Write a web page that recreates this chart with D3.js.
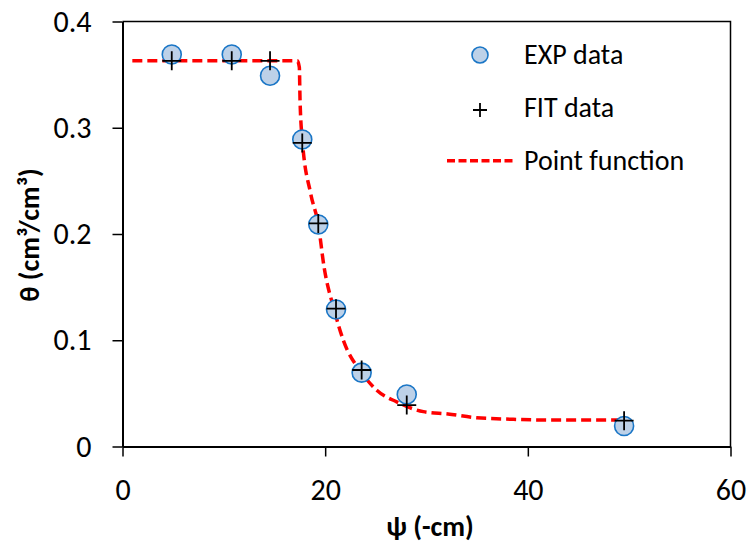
<!DOCTYPE html>
<html>
<head>
<meta charset="utf-8">
<script src="https://cdn.jsdelivr.net/npm/d3@7"></script>
<style>
  body { margin: 0; background: #fff; }
  svg text { font-family: Carlito, Calibri, Lato, sans-serif; fill: #000; }
</style>
</head>
<body>
<div id="chart"></div>
<script>
// measured data (psi in -cm, theta in cm3/cm3)
var expPsi = [4.86, 10.78, 14.56, 17.74, 19.32, 21.07, 23.6, 28.05, 49.5];
var expTheta = [0.369, 0.369, 0.349, 0.289, 0.209, 0.129, 0.0695, 0.049, 0.0193];
var fitTheta = [0.363, 0.363, 0.363, 0.2857, 0.21, 0.1297, 0.072, 0.039, 0.0243];
// point function curve
var curvePsi = [0.97, 17.25, 17.45, 17.52, 17.74, 18.57, 19.32, 19.89, 20.88, 21.79, 23.6, 25.09, 27.06, 29.69, 32.12, 34.95, 38.57, 41.86, 49.59];
var curveTheta = [0.363, 0.363, 0.357, 0.326, 0.289, 0.238, 0.209, 0.169, 0.129, 0.1, 0.0695, 0.053, 0.042, 0.0328, 0.0306, 0.0271, 0.0256, 0.0249, 0.0249];
var xTicks = [0, 20, 40, 60];
var yTicks = [0, 0.1, 0.2, 0.3, 0.4];
var legendItems = ["EXP data", "FIT data", "Point function"];

var width = 751, height = 546;
var svg = d3.select("#chart").append("svg")
  .attr("width", width)
  .attr("height", height);

var x = d3.scaleLinear().domain([0, 60]).range([122.5, 730.5]);
var y = d3.scaleLinear().domain([0, 0.4]).range([446.5, 21.5]);

// frame (top and right)
svg.append("path")
  .attr("d", "M" + x(0) + "," + y(0.4) + "H" + x(60) + "V" + y(0))
  .attr("fill", "none")
  .attr("stroke", "#000")
  .attr("stroke-width", 1.5);

// axes
var xAxis = svg.append("g")
  .attr("transform", "translate(0," + y(0) + ")")
  .call(d3.axisBottom(x).tickValues(xTicks).tickSize(10).tickSizeOuter(0).tickFormat(d3.format("d")));
xAxis.selectAll("text").attr("y", 53).attr("dy", 0).style("font-size", "30px");

var yAxis = svg.append("g")
  .attr("transform", "translate(" + x(0) + ",0)")
  .call(d3.axisLeft(y).tickValues(yTicks).tickSize(10).tickSizeOuter(0).tickPadding(21).tickFormat(function (d) {
    return d === 0 ? "0" : d3.format(".1f")(d);
  }));
yAxis.selectAll("text").style("font-size", "30px");

svg.selectAll(".domain").attr("stroke-width", 2);
svg.selectAll(".tick line").attr("stroke-width", 1.5);

// axis titles
svg.append("text")
  .attr("x", 430)
  .attr("y", 536)
  .attr("text-anchor", "middle")
  .style("font-size", "28px")
  .style("font-weight", "bold")
  .text("ψ (-cm)");

svg.append("text")
  .attr("transform", "translate(39,235) rotate(-90)")
  .attr("text-anchor", "middle")
  .style("font-size", "28px")
  .style("font-weight", "bold")
  .text("θ (cm³/cm³)");

// point function curve
var curveData = curvePsi.map(function (d, i) { return [d, curveTheta[i]]; });
var line = d3.line()
  .x(function (d) { return x(d[0]); })
  .y(function (d) { return y(d[1]); })
  .curve(d3.curveMonotoneX);

svg.append("path")
  .datum(curveData)
  .attr("d", line)
  .attr("fill", "none")
  .attr("stroke", "#ff0000")
  .attr("stroke-width", 3.5)
  .attr("stroke-dasharray", "10,5");

// experimental points
svg.append("g")
  .selectAll("circle")
  .data(expPsi)
  .enter()
  .append("circle")
  .attr("cx", function (d) { return x(d); })
  .attr("cy", function (d, i) { return y(expTheta[i]); })
  .attr("r", 9.5)
  .attr("fill", "#bdd1e8")
  .attr("stroke", "#1a76c6")
  .attr("stroke-width", 1.6);

// fitted points as plus markers
svg.append("g")
  .selectAll("path")
  .data(expPsi)
  .enter()
  .append("path")
  .attr("d", function (d, i) {
    var cx = x(d), cy = y(fitTheta[i]), s = 9.5;
    return "M" + (cx - s) + "," + cy + "H" + (cx + s) + "M" + cx + "," + (cy - s) + "V" + (cy + s);
  })
  .attr("stroke", "#000")
  .attr("stroke-width", 1.8)
  .attr("fill", "none");

// legend
var legend = svg.append("g").attr("class", "legend");
legend.append("circle")
  .attr("cx", 480).attr("cy", 55).attr("r", 8)
  .attr("fill", "#bdd1e8").attr("stroke", "#1a76c6").attr("stroke-width", 1.6);
legend.append("path")
  .attr("d", "M473,110H487M480,103V117")
  .attr("stroke", "#000").attr("stroke-width", 1.8);
legend.append("path")
  .attr("d", "M447,160.7H515")
  .attr("stroke", "#ff0000").attr("stroke-width", 3.5).attr("stroke-dasharray", "8,3.5");

legend.selectAll("text")
  .data(legendItems)
  .enter()
  .append("text")
  .attr("x", 524)
  .attr("y", function (d, i) { return 64 + i * 53; })
  .style("font-size", "28px")
  .text(function (d) { return d; });
</script>
</body>
</html>
